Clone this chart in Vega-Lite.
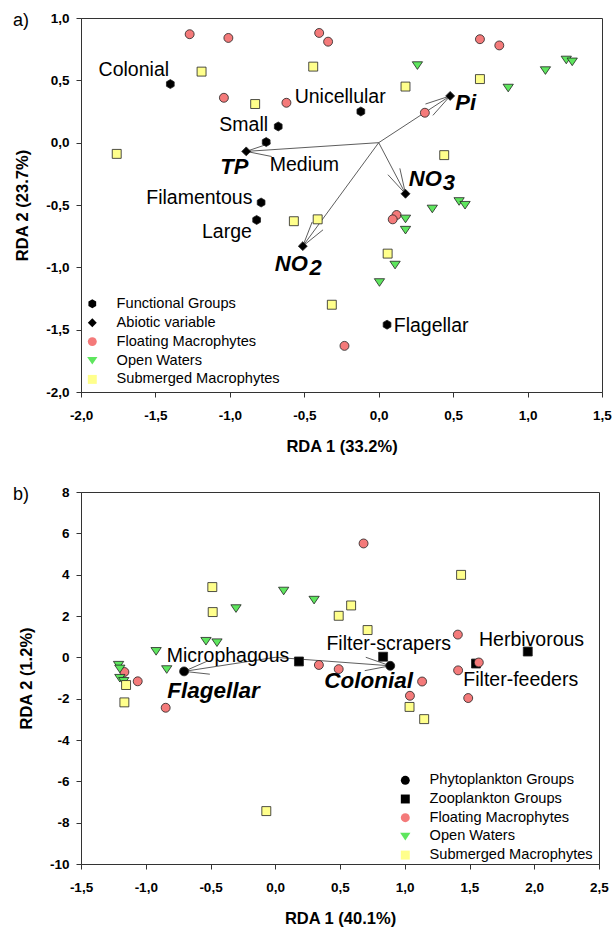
{
  "$schema": "https://vega.github.io/schema/vega-lite/v6.json",
  "background": "white",
  "padding": {"left": 12, "top": 10, "right": 0, "bottom": 0},
  "spacing": 100,
  "bounds": "flush",
  "config": {
    "font": "Liberation Sans",
    "view": {"stroke": "#333", "strokeWidth": 1},
    "axis": {"labelFont": "Liberation Sans", "labelFontWeight": "bold", "labelFontSize": 13.5, "labelColor": "#000", "titleFont": "Liberation Sans", "titleFontWeight": "bold", "titleFontSize": 16.5, "titleColor": "#000", "tickSize": 5, "tickColor": "#333", "domainColor": "#333", "grid": false, "labelFlush": false, "labelOverlap": false},
    "axisX": {"labelPadding": 11, "titlePadding": 16.5},
    "axisY": {"labelPadding": 7, "titlePadding": 15},
    "legend": {"orient": "none", "title": null, "labelFont": "Liberation Sans", "labelFontSize": 14.6, "labelColor": "#000", "labelLimit": 0, "symbolSize": 80, "symbolStrokeColor": "#222", "symbolStrokeWidth": 0.8, "labelOffset": 17, "padding": 0},
    "title": {"font": "Liberation Sans", "fontSize": 18, "fontWeight": "normal", "color": "#000"}
  },
  "resolve": {"scale": {"x": "independent", "y": "independent", "shape": "independent", "fill": "independent"}, "legend": {"shape": "independent", "fill": "independent"}},
  "datasets": {
    "ptsA": [
      {"group": "Functional Groups", "name": "Colonial", "x": -1.40, "y": 0.47},
      {"group": "Functional Groups", "name": "Small", "x": -0.675, "y": 0.13},
      {"group": "Functional Groups", "name": "Medium", "x": -0.756, "y": 0.005},
      {"group": "Functional Groups", "name": "Unicellular", "x": -0.12, "y": 0.25},
      {"group": "Functional Groups", "name": "Filamentous", "x": -0.79, "y": -0.48},
      {"group": "Functional Groups", "name": "Large", "x": -0.82, "y": -0.62},
      {"group": "Functional Groups", "name": "Flagellar", "x": 0.056, "y": -1.46},
      {"group": "Abiotic variable", "name": "TP", "x": -0.89, "y": -0.07},
      {"group": "Abiotic variable", "name": "NO2", "x": -0.51, "y": -0.83},
      {"group": "Abiotic variable", "name": "NO3", "x": 0.18, "y": -0.41},
      {"group": "Abiotic variable", "name": "Pi", "x": 0.48, "y": 0.375},
      {"group": "Floating Macrophytes", "x": -1.27, "y": 0.87},
      {"group": "Floating Macrophytes", "x": -1.01, "y": 0.84},
      {"group": "Floating Macrophytes", "x": -1.04, "y": 0.36},
      {"group": "Floating Macrophytes", "x": -0.62, "y": 0.32},
      {"group": "Floating Macrophytes", "x": -0.40, "y": 0.88},
      {"group": "Floating Macrophytes", "x": -0.34, "y": 0.81},
      {"group": "Floating Macrophytes", "x": 0.68, "y": 0.83},
      {"group": "Floating Macrophytes", "x": 0.81, "y": 0.78},
      {"group": "Floating Macrophytes", "x": 0.31, "y": 0.24},
      {"group": "Floating Macrophytes", "x": 0.12, "y": -0.58},
      {"group": "Floating Macrophytes", "x": 0.094, "y": -0.615},
      {"group": "Floating Macrophytes", "x": -0.23, "y": -1.63},
      {"group": "Open Waters", "x": 0.26, "y": 0.62},
      {"group": "Open Waters", "x": 0.87, "y": 0.44},
      {"group": "Open Waters", "x": 1.12, "y": 0.58},
      {"group": "Open Waters", "x": 1.26, "y": 0.665},
      {"group": "Open Waters", "x": 1.30, "y": 0.65},
      {"group": "Open Waters", "x": 0.36, "y": -0.53},
      {"group": "Open Waters", "x": 0.54, "y": -0.47},
      {"group": "Open Waters", "x": 0.58, "y": -0.50},
      {"group": "Open Waters", "x": 0.18, "y": -0.61},
      {"group": "Open Waters", "x": 0.18, "y": -0.70},
      {"group": "Open Waters", "x": 0.11, "y": -0.98},
      {"group": "Open Waters", "x": 0.005, "y": -1.12},
      {"group": "Submerged Macrophytes", "x": -1.19, "y": 0.57},
      {"group": "Submerged Macrophytes", "x": -0.83, "y": 0.31},
      {"group": "Submerged Macrophytes", "x": -1.76, "y": -0.09},
      {"group": "Submerged Macrophytes", "x": -0.44, "y": 0.61},
      {"group": "Submerged Macrophytes", "x": 0.18, "y": 0.45},
      {"group": "Submerged Macrophytes", "x": 0.68, "y": 0.51},
      {"group": "Submerged Macrophytes", "x": 0.44, "y": -0.10},
      {"group": "Submerged Macrophytes", "x": -0.57, "y": -0.63},
      {"group": "Submerged Macrophytes", "x": -0.41, "y": -0.615},
      {"group": "Submerged Macrophytes", "x": 0.06, "y": -0.89},
      {"group": "Submerged Macrophytes", "x": -0.315, "y": -1.30}
    ],
    "lblA": [
      {"kind": "Functional Groups", "text": "Colonial", "x": -1.645, "y": 0.585},
      {"kind": "Functional Groups", "text": "Small", "x": -0.907, "y": 0.144},
      {"kind": "Functional Groups", "text": "Unicellular", "x": -0.259, "y": 0.369},
      {"kind": "Functional Groups", "text": "Medium", "x": -0.499, "y": -0.176},
      {"kind": "Functional Groups", "text": "Filamentous", "x": -1.205, "y": -0.441},
      {"kind": "Functional Groups", "text": "Large", "x": -1.02, "y": -0.714},
      {"kind": "Functional Groups", "text": "Flagellar", "x": 0.352, "y": -1.473},
      {"kind": "Abiotic variable", "text": "TP", "x": -0.97, "y": -0.192},
      {"kind": "Abiotic variable", "text": "NO", "x": -0.587, "y": -0.97},
      {"kind": "Abiotic variable", "text": "2", "x": -0.423, "y": -1.002},
      {"kind": "Abiotic variable", "text": "NO", "x": 0.313, "y": -0.289},
      {"kind": "Abiotic variable", "text": "3", "x": 0.472, "y": -0.321},
      {"kind": "Abiotic variable", "text": "Pi", "x": 0.584, "y": 0.321}
    ],
    "arrA": [
      {"x": 0, "y": 0, "x2": -0.89, "y2": -0.07},
      {"x": -0.89, "y": -0.07, "x2": -0.725, "y2": -0.003},
      {"x": -0.89, "y": -0.07, "x2": -0.719, "y2": -0.111},
      {"x": 0, "y": 0, "x2": -0.51, "y2": -0.83},
      {"x": -0.51, "y": -0.83, "x2": -0.447, "y2": -0.636},
      {"x": -0.51, "y": -0.83, "x2": -0.374, "y2": -0.699},
      {"x": 0, "y": 0, "x2": 0.18, "y2": -0.41},
      {"x": 0.18, "y": -0.41, "x2": 0.062, "y2": -0.257},
      {"x": 0.18, "y": -0.41, "x2": 0.142, "y2": -0.206},
      {"x": 0, "y": 0, "x2": 0.48, "y2": 0.375},
      {"x": 0.48, "y": 0.375, "x2": 0.364, "y2": 0.219},
      {"x": 0.48, "y": 0.375, "x2": 0.314, "y2": 0.31}
    ],
    "ptsB": [
      {"group": "Phytoplankton Groups", "name": "Flagellar", "x": -0.704, "y": -0.68},
      {"group": "Phytoplankton Groups", "name": "Colonial", "x": 0.888, "y": -0.41},
      {"group": "Zooplankton Groups", "name": "Microphagous", "x": 0.183, "y": -0.2},
      {"group": "Zooplankton Groups", "name": "Filter-scrapers", "x": 0.833, "y": 0.03},
      {"group": "Zooplankton Groups", "name": "Herbivorous", "x": 1.95, "y": 0.28},
      {"group": "Zooplankton Groups", "name": "Filter-feeders", "x": 1.55, "y": -0.3},
      {"group": "Floating Macrophytes", "x": 0.682, "y": 5.51},
      {"group": "Floating Macrophytes", "x": 1.41, "y": 1.1},
      {"group": "Floating Macrophytes", "x": 1.572, "y": -0.25},
      {"group": "Floating Macrophytes", "x": 1.412, "y": -0.63},
      {"group": "Floating Macrophytes", "x": 0.337, "y": -0.37},
      {"group": "Floating Macrophytes", "x": 0.49, "y": -0.57},
      {"group": "Floating Macrophytes", "x": 1.134, "y": -1.17},
      {"group": "Floating Macrophytes", "x": 1.04, "y": -1.86},
      {"group": "Floating Macrophytes", "x": 1.49, "y": -1.97},
      {"group": "Floating Macrophytes", "x": -1.165, "y": -0.71},
      {"group": "Floating Macrophytes", "x": -1.062, "y": -1.16},
      {"group": "Floating Macrophytes", "x": -0.846, "y": -2.44},
      {"group": "Open Waters", "x": 0.065, "y": 3.22},
      {"group": "Open Waters", "x": 0.3, "y": 2.78},
      {"group": "Open Waters", "x": -0.303, "y": 2.37},
      {"group": "Open Waters", "x": -0.535, "y": 0.79},
      {"group": "Open Waters", "x": -0.45, "y": 0.72},
      {"group": "Open Waters", "x": -0.92, "y": 0.3},
      {"group": "Open Waters", "x": -0.838, "y": -0.58},
      {"group": "Open Waters", "x": -1.21, "y": -0.37},
      {"group": "Open Waters", "x": -1.2, "y": -0.55},
      {"group": "Open Waters", "x": -1.2, "y": -1.0},
      {"group": "Open Waters", "x": -1.17, "y": -1.15},
      {"group": "Submerged Macrophytes", "x": -0.486, "y": 3.4},
      {"group": "Submerged Macrophytes", "x": -0.483, "y": 2.19},
      {"group": "Submerged Macrophytes", "x": 1.435, "y": 3.99},
      {"group": "Submerged Macrophytes", "x": 0.586, "y": 2.51},
      {"group": "Submerged Macrophytes", "x": 0.49, "y": 2.01},
      {"group": "Submerged Macrophytes", "x": 0.713, "y": 1.32},
      {"group": "Submerged Macrophytes", "x": 1.037, "y": -2.4},
      {"group": "Submerged Macrophytes", "x": 1.15, "y": -2.99},
      {"group": "Submerged Macrophytes", "x": -1.152, "y": -1.34},
      {"group": "Submerged Macrophytes", "x": -1.165, "y": -2.18},
      {"group": "Submerged Macrophytes", "x": -0.069, "y": -7.44}
    ],
    "lblB": [
      {"kind": "Zooplankton Groups", "text": "Microphagous", "x": -0.365, "y": 0.05},
      {"kind": "Zooplankton Groups", "text": "Filter-scrapers", "x": 0.876, "y": 0.64},
      {"kind": "Zooplankton Groups", "text": "Herbivorous", "x": 1.979, "y": 0.836},
      {"kind": "Zooplankton Groups", "text": "Filter-feeders", "x": 1.896, "y": -1.08},
      {"kind": "Phytoplankton Groups", "text": "Flagellar", "x": -0.477, "y": -1.63},
      {"kind": "Phytoplankton Groups", "text": "Colonial", "x": 0.721, "y": -1.16}
    ],
    "arrB": [
      {"x": 0, "y": 0, "x2": -0.704, "y2": -0.68},
      {"x": -0.704, "y": -0.68, "x2": -0.521, "y2": -0.173},
      {"x": -0.704, "y": -0.68, "x2": -0.505, "y2": -0.816},
      {"x": 0, "y": 0, "x2": 0.888, "y2": -0.41},
      {"x": 0.888, "y": -0.41, "x2": 0.691, "y2": -0.645},
      {"x": 0.888, "y": -0.41, "x2": 0.699, "y2": 0.003}
    ]
  },
  "vconcat": [
    {
      "width": 521,
      "height": 374,
      "title": {"text": "a)", "anchor": "start", "frame": "group", "orient": "top", "baseline": "middle", "dx": -68, "offset": -28},
      "layer": [
        {"mark": {"type": "rule", "stroke": "#555", "strokeWidth": 1},
         "encoding": {"x": {"datum": 0, "type": "quantitative", "scale": {"domain": [-2, 1.5], "nice": false, "zero": false},
                 "axis": {"title": "RDA 1 (33.2%)", "values": [-2, -1.5, -1, -0.5, 0, 0.5, 1, 1.5], "labelExpr": "replace(replace(format(datum.value, '.1f'), '.', ','), '\u2212', '-')"}}}},
        {"mark": {"type": "rule", "stroke": "#555", "strokeWidth": 1},
         "encoding": {"y": {"datum": 0, "type": "quantitative", "scale": {"domain": [-2, 1], "nice": false, "zero": false},
                 "axis": {"title": "RDA 2 (23.7%)", "values": [-2, -1.5, -1, -0.5, 0, 0.5, 1], "labelExpr": "replace(replace(format(datum.value, '.1f'), '.', ','), '\u2212', '-')"}}}},
        {"data": {"name": "arrA"},
         "mark": {"type": "rule", "stroke": "#333", "strokeWidth": 0.8},
         "encoding": {
           "x": {"field": "x", "type": "quantitative", "scale": {"domain": [-2, 1.5], "nice": false, "zero": false},
                 "axis": {"title": "RDA 1 (33.2%)", "values": [-2, -1.5, -1, -0.5, 0, 0.5, 1, 1.5], "labelExpr": "replace(replace(format(datum.value, '.1f'), '.', ','), '\u2212', '-')"}},
           "y": {"field": "y", "type": "quantitative", "scale": {"domain": [-2, 1], "nice": false, "zero": false},
                 "axis": {"title": "RDA 2 (23.7%)", "values": [-2, -1.5, -1, -0.5, 0, 0.5, 1], "labelExpr": "replace(replace(format(datum.value, '.1f'), '.', ','), '\u2212', '-')"}},
           "x2": {"field": "x2"}, "y2": {"field": "y2"}}},
        {"data": {"name": "ptsA"},
         "mark": {"type": "point", "filled": true, "opacity": 1, "size": 80, "stroke": "#222", "strokeWidth": 0.8},
         "encoding": {
           "x": {"field": "x", "type": "quantitative", "scale": {"domain": [-2, 1.5], "nice": false, "zero": false},
                 "axis": {"title": "RDA 1 (33.2%)", "values": [-2, -1.5, -1, -0.5, 0, 0.5, 1, 1.5], "labelExpr": "replace(replace(format(datum.value, '.1f'), '.', ','), '\u2212', '-')"}},
           "y": {"field": "y", "type": "quantitative", "scale": {"domain": [-2, 1], "nice": false, "zero": false},
                 "axis": {"title": "RDA 2 (23.7%)", "values": [-2, -1.5, -1, -0.5, 0, 0.5, 1], "labelExpr": "replace(replace(format(datum.value, '.1f'), '.', ','), '\u2212', '-')"}},
           "shape": {"field": "group", "type": "nominal", "scale": {"domain": ["Functional Groups", "Abiotic variable", "Floating Macrophytes", "Open Waters", "Submerged Macrophytes"], "range": ["M0,-1L0.866,-0.5L0.866,0.5L0,1L-0.866,0.5L-0.866,-0.5Z", "diamond", "circle", "M-1.15,-0.8L1.15,-0.8L0,0.9Z", "square"]},
                     "legend": {"legendX": 4, "legendY": 278.5, "rowPadding": 3.9, "symbolStrokeColor": "#222", "symbolStrokeWidth": 0.8, "encode": {"symbols": {"update": {"stroke": {"value": "#222"}, "strokeWidth": {"value": 0.8}}}}}},
           "fill": {"field": "group", "type": "nominal", "scale": {"domain": ["Functional Groups", "Abiotic variable", "Floating Macrophytes", "Open Waters", "Submerged Macrophytes"], "range": ["#000000", "#000000", "#f47a7a", "#5ee65e", "#ffff8c"]},
                    "legend": {"legendX": 4, "legendY": 278.5, "rowPadding": 3.9, "symbolStrokeColor": "#222", "symbolStrokeWidth": 0.8, "encode": {"symbols": {"update": {"stroke": {"value": "#222"}, "strokeWidth": {"value": 0.8}}}}}}
         }},
        {"data": {"name": "lblA"},
         "transform": [{"filter": "datum.kind === 'Functional Groups'"}],
         "mark": {"type": "text", "font": "Liberation Sans", "fontSize": 19.5, "color": "#000", "align": "center", "baseline": "middle"},
         "encoding": {
           "x": {"field": "x", "type": "quantitative", "scale": {"domain": [-2, 1.5], "nice": false, "zero": false},
                 "axis": {"title": "RDA 1 (33.2%)", "values": [-2, -1.5, -1, -0.5, 0, 0.5, 1, 1.5], "labelExpr": "replace(replace(format(datum.value, '.1f'), '.', ','), '\u2212', '-')"}},
           "y": {"field": "y", "type": "quantitative", "scale": {"domain": [-2, 1], "nice": false, "zero": false},
                 "axis": {"title": "RDA 2 (23.7%)", "values": [-2, -1.5, -1, -0.5, 0, 0.5, 1], "labelExpr": "replace(replace(format(datum.value, '.1f'), '.', ','), '\u2212', '-')"}},
           "text": {"field": "text"}}},
        {"data": {"name": "lblA"},
         "transform": [{"filter": "datum.kind === 'Abiotic variable'"}],
         "mark": {"type": "text", "font": "Liberation Sans", "fontSize": 22, "fontWeight": "bold", "fontStyle": "italic", "color": "#000", "align": "center", "baseline": "middle"},
         "encoding": {
           "x": {"field": "x", "type": "quantitative", "scale": {"domain": [-2, 1.5], "nice": false, "zero": false},
                 "axis": {"title": "RDA 1 (33.2%)", "values": [-2, -1.5, -1, -0.5, 0, 0.5, 1, 1.5], "labelExpr": "replace(replace(format(datum.value, '.1f'), '.', ','), '\u2212', '-')"}},
           "y": {"field": "y", "type": "quantitative", "scale": {"domain": [-2, 1], "nice": false, "zero": false},
                 "axis": {"title": "RDA 2 (23.7%)", "values": [-2, -1.5, -1, -0.5, 0, 0.5, 1], "labelExpr": "replace(replace(format(datum.value, '.1f'), '.', ','), '\u2212', '-')"}},
           "text": {"field": "text"}}}
      ]
    },
    {
      "width": 518,
      "height": 372,
      "title": {"text": "b)", "anchor": "start", "frame": "group", "orient": "top", "baseline": "middle", "dx": -68, "offset": -28},
      "layer": [
        {"mark": {"type": "rule", "stroke": "#555", "strokeWidth": 1},
         "encoding": {"x": {"datum": 0, "type": "quantitative", "scale": {"domain": [-1.5, 2.5], "nice": false, "zero": false},
                 "axis": {"title": "RDA 1 (40.1%)", "values": [-1.5, -1, -0.5, 0, 0.5, 1, 1.5, 2, 2.5], "labelExpr": "replace(replace(format(datum.value, '.1f'), '.', ','), '\u2212', '-')"}}}},
        {"mark": {"type": "rule", "stroke": "#555", "strokeWidth": 1},
         "encoding": {"y": {"datum": 0, "type": "quantitative", "scale": {"domain": [-10, 8], "nice": false, "zero": false},
                 "axis": {"title": "RDA 2 (1.2%)", "values": [-10, -8, -6, -4, -2, 0, 2, 4, 6, 8], "labelExpr": "replace(format(datum.value, 'd'), '\u2212', '-')"}}}},
        {"data": {"name": "arrB"},
         "mark": {"type": "rule", "stroke": "#333", "strokeWidth": 0.8},
         "encoding": {
           "x": {"field": "x", "type": "quantitative", "scale": {"domain": [-1.5, 2.5], "nice": false, "zero": false},
                 "axis": {"title": "RDA 1 (40.1%)", "values": [-1.5, -1, -0.5, 0, 0.5, 1, 1.5, 2, 2.5], "labelExpr": "replace(replace(format(datum.value, '.1f'), '.', ','), '\u2212', '-')"}},
           "y": {"field": "y", "type": "quantitative", "scale": {"domain": [-10, 8], "nice": false, "zero": false},
                 "axis": {"title": "RDA 2 (1.2%)", "values": [-10, -8, -6, -4, -2, 0, 2, 4, 6, 8], "labelExpr": "replace(format(datum.value, 'd'), '\u2212', '-')"}},
           "x2": {"field": "x2"}, "y2": {"field": "y2"}}},
        {"data": {"name": "ptsB"},
         "mark": {"type": "point", "filled": true, "opacity": 1, "size": 80, "stroke": "#222", "strokeWidth": 0.8},
         "encoding": {
           "x": {"field": "x", "type": "quantitative", "scale": {"domain": [-1.5, 2.5], "nice": false, "zero": false},
                 "axis": {"title": "RDA 1 (40.1%)", "values": [-1.5, -1, -0.5, 0, 0.5, 1, 1.5, 2, 2.5], "labelExpr": "replace(replace(format(datum.value, '.1f'), '.', ','), '\u2212', '-')"}},
           "y": {"field": "y", "type": "quantitative", "scale": {"domain": [-10, 8], "nice": false, "zero": false},
                 "axis": {"title": "RDA 2 (1.2%)", "values": [-10, -8, -6, -4, -2, 0, 2, 4, 6, 8], "labelExpr": "replace(format(datum.value, 'd'), '\u2212', '-')"}},
           "shape": {"field": "group", "type": "nominal", "scale": {"domain": ["Phytoplankton Groups", "Zooplankton Groups", "Floating Macrophytes", "Open Waters", "Submerged Macrophytes"], "range": ["circle", "square", "circle", "M-1.15,-0.8L1.15,-0.8L0,0.9Z", "square"]},
                     "legend": {"legendX": 317, "legendY": 281, "rowPadding": 3.7, "symbolStrokeColor": "#222", "symbolStrokeWidth": 0.8, "encode": {"symbols": {"update": {"stroke": {"value": "#222"}, "strokeWidth": {"value": 0.8}}}}}},
           "fill": {"field": "group", "type": "nominal", "scale": {"domain": ["Phytoplankton Groups", "Zooplankton Groups", "Floating Macrophytes", "Open Waters", "Submerged Macrophytes"], "range": ["#000000", "#000000", "#f47a7a", "#5ee65e", "#ffff8c"]},
                    "legend": {"legendX": 317, "legendY": 281, "rowPadding": 3.7, "symbolStrokeColor": "#222", "symbolStrokeWidth": 0.8, "encode": {"symbols": {"update": {"stroke": {"value": "#222"}, "strokeWidth": {"value": 0.8}}}}}}
         }},
        {"data": {"name": "lblB"},
         "transform": [{"filter": "datum.kind === 'Zooplankton Groups'"}],
         "mark": {"type": "text", "font": "Liberation Sans", "fontSize": 19.5, "color": "#000", "align": "center", "baseline": "middle"},
         "encoding": {
           "x": {"field": "x", "type": "quantitative", "scale": {"domain": [-1.5, 2.5], "nice": false, "zero": false},
                 "axis": {"title": "RDA 1 (40.1%)", "values": [-1.5, -1, -0.5, 0, 0.5, 1, 1.5, 2, 2.5], "labelExpr": "replace(replace(format(datum.value, '.1f'), '.', ','), '\u2212', '-')"}},
           "y": {"field": "y", "type": "quantitative", "scale": {"domain": [-10, 8], "nice": false, "zero": false},
                 "axis": {"title": "RDA 2 (1.2%)", "values": [-10, -8, -6, -4, -2, 0, 2, 4, 6, 8], "labelExpr": "replace(format(datum.value, 'd'), '\u2212', '-')"}},
           "text": {"field": "text"}}},
        {"data": {"name": "lblB"},
         "transform": [{"filter": "datum.kind === 'Phytoplankton Groups'"}],
         "mark": {"type": "text", "font": "Liberation Sans", "fontSize": 22.5, "fontWeight": "bold", "fontStyle": "italic", "color": "#000", "align": "center", "baseline": "middle"},
         "encoding": {
           "x": {"field": "x", "type": "quantitative", "scale": {"domain": [-1.5, 2.5], "nice": false, "zero": false},
                 "axis": {"title": "RDA 1 (40.1%)", "values": [-1.5, -1, -0.5, 0, 0.5, 1, 1.5, 2, 2.5], "labelExpr": "replace(replace(format(datum.value, '.1f'), '.', ','), '\u2212', '-')"}},
           "y": {"field": "y", "type": "quantitative", "scale": {"domain": [-10, 8], "nice": false, "zero": false},
                 "axis": {"title": "RDA 2 (1.2%)", "values": [-10, -8, -6, -4, -2, 0, 2, 4, 6, 8], "labelExpr": "replace(format(datum.value, 'd'), '\u2212', '-')"}},
           "text": {"field": "text"}}}
      ]
    }
  ]
}
